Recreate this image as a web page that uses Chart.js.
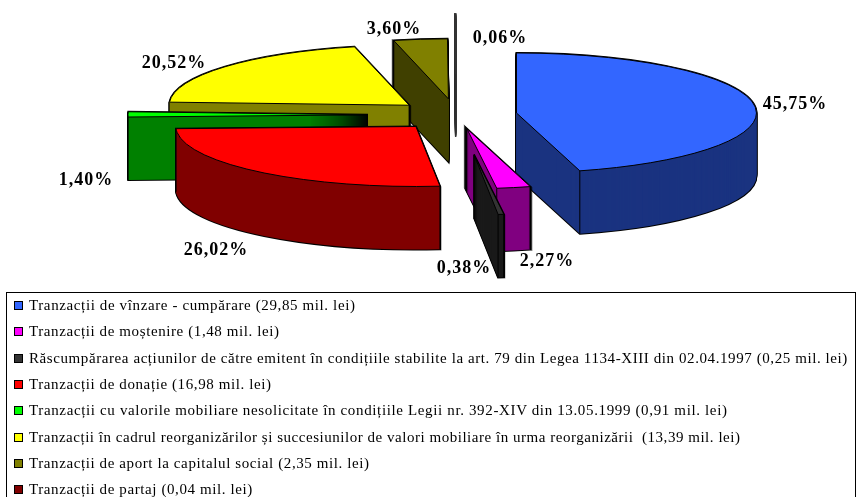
<!DOCTYPE html>
<html>
<head>
<meta charset="utf-8">
<title>Tranzacții</title>
<script src="https://cdn.jsdelivr.net/npm/chart.js@4/dist/chart.umd.min.js"></script>
<style>
  html, body { margin: 0; padding: 0; background: #fff; overflow: hidden; }
  #wrap { position: relative; width: 856px; height: 497px; overflow: hidden; }
  #pie { position: absolute; left: 0; top: 0; }
  #legend {
    position: absolute; left: 6px; top: 292px; width: 848px; height: 220px;
    border: 1px solid #000; margin: 0; padding: 0; list-style: none;
    font: 15px "Liberation Serif", serif; color: #000;
  }
  #legend li { position: absolute; left: 0; white-space: pre; height: 17px; line-height: 17px; }
  #legend i {
    position: absolute; left: 7px; top: 4px; width: 7px; height: 7px;
    border: 1px solid #000;
  }
  #legend span { position: absolute; left: 22px; }
</style>
</head>
<body>
<div id="wrap">
  <canvas id="pie" width="856" height="497"></canvas>
  <ul id="legend"></ul>
</div>
<script>
// date
const categorii = [
  'Tranzacții de vînzare - cumpărare (29,85 mil. lei)',
  'Tranzacții de moștenire (1,48 mil. lei)',
  'Răscumpărarea acțiunilor de către emitent în condițiile stabilite la art. 79 din Legea 1134-XIII din 02.04.1997 (0,25 mil. lei)',
  'Tranzacții de donație (16,98 mil. lei)',
  'Tranzacții cu valorile mobiliare nesolicitate în condițiile Legii nr. 392-XIV din 13.05.1999 (0,91 mil. lei)',
  'Tranzacții în cadrul reorganizărilor și succesiunilor de valori mobiliare în urma reorganizării  (13,39 mil. lei)',
  'Tranzacții de aport la capitalul social (2,35 mil. lei)',
  'Tranzacții de partaj (0,04 mil. lei)'
];
const valori = [29.85, 1.48, 0.25, 16.98, 0.91, 13.39, 2.35, 0.04];
const procente = ['45,75%', '2,27%', '0,38%', '26,02%', '1,40%', '20,52%', '3,60%', '0,06%'];

const culori = ['#3366ff', '#ff00ff', '#333333', '#ff0000', '#00ff00', '#ffff00', '#808000', '#800000'];
const culoriPerete = ['#1a3380', '#800080', '#1a1a1a', '#800000', '#008000', '#808000', '#404000', '#333333'];

// aspect 3D
const centruX = 456, centruY = 115, turtire = 0.25, adancime = 63, raza = 240;
const explozie = [61, 56, 160, 61, 88, 61, 65, 164];
const ordine = [7, 6, 5, 4, 3, 0, 1, 2]; // din spate in fata
const pozEtichete = [[795, 104], [547, 261], [464, 268], [216, 250], [86, 180], [174, 63], [394, 29], [500, 38]];
const spatiereLegenda = [0.62, 0.6, 0.585, 0.6, 0.64, 0.53, 0.6, 0.6];

// aplica proiectia felii i, cu deplasare verticala d
function proiectie(ctx, arc, i, d) {
  const mij = (arc.startAngle + arc.endAngle) / 2;
  ctx.translate(centruX + Math.cos(mij) * explozie[i], centruY + Math.sin(mij) * explozie[i] * turtire + d);
  ctx.scale(1, turtire);
  ctx.translate(-arc.x, -arc.y);
}

function traseuFelie(ctx, arc, i, d) {
  ctx.save();
  proiectie(ctx, arc, i, d);
  ctx.beginPath();
  ctx.moveTo(arc.x, arc.y);
  ctx.arc(arc.x, arc.y, arc.outerRadius, arc.startAngle, arc.endAngle);
  ctx.closePath();
  ctx.restore();
}

function punctMargine(arc, i, unghi) {
  const mij = (arc.startAngle + arc.endAngle) / 2;
  return {
    x: centruX + Math.cos(mij) * explozie[i] + Math.cos(unghi) * arc.outerRadius,
    y: centruY + (Math.sin(mij) * explozie[i] + Math.sin(unghi) * arc.outerRadius) * turtire
  };
}

const pie3d = {
  id: 'pie3d',
  beforeDatasetsDraw(chart) {
    const ctx = chart.ctx;
    const arce = chart.getDatasetMeta(0).data;
    ctx.save();
    ctx.lineJoin = 'miter';
    ordine.forEach(i => {
      const arc = arce[i];
      const subtire = i === 7; // felia de 0,06% e doar o linie
      // contur perete
      ctx.strokeStyle = subtire ? '#333' : '#000';
      ctx.lineWidth = subtire ? 1.5 : 2;
      for (let d = adancime; d >= 0; d--) {
        traseuFelie(ctx, arc, i, d);
        ctx.stroke();
      }
      // perete
      ctx.fillStyle = culoriPerete[i];
      for (let d = adancime; d >= 0; d--) {
        traseuFelie(ctx, arc, i, d);
        ctx.fill();
      }
      // muchii verticale, doar cele din fata
      ctx.lineWidth = 1;
      [arc.startAngle, arc.endAngle].forEach(u => {
        if (Math.sin(u) <= 0) return;
        const p = punctMargine(arc, i, u);
        ctx.beginPath();
        ctx.moveTo(p.x, p.y);
        ctx.lineTo(p.x, p.y + adancime);
        ctx.stroke();
      });
      // fata de sus, desenata de biblioteca
      ctx.save();
      proiectie(ctx, arc, i, 0);
      arc.draw(ctx);
      ctx.restore();
      traseuFelie(ctx, arc, i, 0);
      ctx.lineWidth = subtire ? 1.5 : 1;
      ctx.stroke();
    });
    ctx.restore();
    return false;
  },
  afterDraw(chart) {
    const ctx = chart.ctx;
    ctx.save();
    ctx.fillStyle = '#000';
    ctx.font = 'bold 18px "Liberation Serif", serif';
    ctx.letterSpacing = '1px';
    ctx.textAlign = 'center';
    ctx.textBaseline = 'middle';
    procente.forEach((t, i) => ctx.fillText(t, pozEtichete[i][0], pozEtichete[i][1]));
    ctx.restore();
  }
};

new Chart(document.getElementById('pie'), {
  type: 'pie',
  data: {
    labels: categorii,
    datasets: [{ data: valori, backgroundColor: culori, borderWidth: 0 }]
  },
  options: {
    responsive: false,
    animation: false,
    radius: raza,
    layout: { padding: 0 },
    plugins: { legend: { display: false }, tooltip: { enabled: false } }
  },
  plugins: [pie3d]
});

// legenda
const lista = document.getElementById('legend');
categorii.forEach((t, i) => {
  const li = document.createElement('li');
  li.style.top = (4 + i * 26.35) + 'px';
  li.style.letterSpacing = spatiereLegenda[i] + 'px';
  li.innerHTML = '<i style="background:' + culori[i] + '"></i><span></span>';
  li.querySelector('span').textContent = t;
  lista.appendChild(li);
});
</script>
</body>
</html>
